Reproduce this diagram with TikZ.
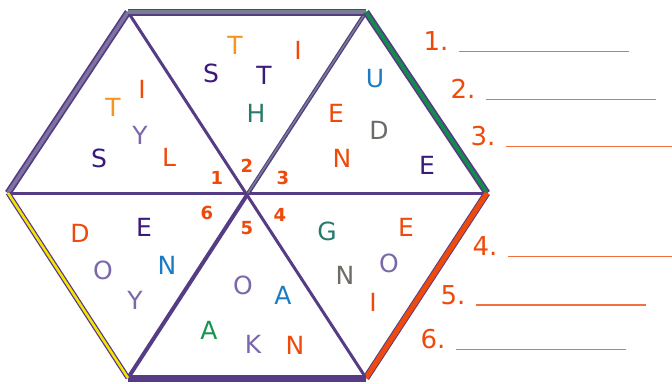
\documentclass[tikz,border=0pt]{standalone}
\usepackage{fontspec}
\setmainfont{DejaVu Sans}
\definecolor{hexpurple}{HTML}{553C85}
\definecolor{ltpurple}{HTML}{3B1A7A}
\definecolor{ltorange}{HTML}{F7941D}
\definecolor{ltred}{HTML}{EE4A0C}
\definecolor{ltlav}{HTML}{7B68AB}
\definecolor{ltteal}{HTML}{2A7A6C}
\definecolor{ltblue}{HTML}{1B7CC4}
\definecolor{ltgray}{HTML}{6E6A66}
\definecolor{ltgreen}{HTML}{17944E}
\definecolor{rimgray}{HTML}{76808C}
\definecolor{rimlav}{HTML}{7D739E}
\definecolor{rimgreen}{HTML}{138C4A}
\definecolor{rimyellow}{HTML}{F5E400}
\definecolor{blankline}{HTML}{F2703F}

\begin{document}
\begin{tikzpicture}[x=1pt,y=-1pt,
  rim/.style   ={draw=hexpurple, line width=7pt},
  riminner/.style={draw=#1, line width=3.5pt},
  spoke/.style ={draw=hexpurple, line width=3pt},
  ltr/.style   ={text=#1, inner sep=0pt, font=\fontsize{25}{25}\selectfont},
  tnum/.style  ={text=ltred, inner sep=0pt, font=\fontsize{18}{18}\selectfont\bfseries},
  anum/.style  ={text=ltred, inner sep=0pt, font=\fontsize{26}{26}\selectfont},
  blank/.style ={draw=blankline, line width=1.6pt}]
  \useasboundingbox (0,0) rectangle (672,383);

  % hexagon corners and centre
  \coordinate (L)  at (8,193);
  \coordinate (TL) at (128,12);
  \coordinate (TR) at (366,12);
  \coordinate (R)  at (487,193);
  \coordinate (BR) at (366,378);
  \coordinate (BL) at (128,378);
  \coordinate (C)  at (248,193);

  % spokes
  \draw[spoke] (L) -- (R);
  \draw[spoke] (TL) -- (BR);
  \draw[spoke, line width=4pt] (TR) -- (BL);
  \draw[draw=rimgray, line width=1.5pt] (TR) -- (C);

  % coloured rim
  \draw[rim] (L) -- (TL);  \draw[riminner=rimlav]    (L) -- (TL);
  \draw[rim] (TL) -- (TR); \draw[riminner=rimgray]   (TL) -- (TR);
  \draw[rim] (TR) -- (R);  \draw[riminner=rimgreen]  (TR) -- (R);
  \draw[rim] (R) -- (BR);  \draw[riminner=ltred, line width=5pt] (R) -- (BR);
  \draw[rim] (BR) -- (BL);
  \draw[rim, line width=5pt] (BL) -- (L); \draw[riminner=rimyellow, line width=2.5pt] (BL) -- (L);

  % triangle 1
  \node[ltr=ltorange] (t1T) at (113,107) {T};
  \node[ltr=ltred]    (t1I) at (142,89)  {I};
  \node[ltr=ltlav]    (t1Y) at (140,135) {Y};
  \node[ltr=ltpurple] (t1S) at (99,158)  {S};
  \node[ltr=ltred]    (t1L) at (169,157) {L};
  \node[tnum] (n1) at (217,178) {1};

  % triangle 2
  \node[ltr=ltpurple] (t2S) at (211,73)  {S};
  \node[ltr=ltorange] (t2T) at (235,45)  {T};
  \node[ltr=ltred]    (t2I) at (298,50)  {I};
  \node[ltr=ltpurple] (t2t) at (264,75)  {T};
  \node[ltr=ltteal]   (t2H) at (256,113) {H};
  \node[tnum] (n2) at (247,166) {2};

  % triangle 3
  \node[ltr=ltblue]   (t3U) at (375,79)  {U};
  \node[ltr=ltred]    (t3E) at (336,113) {E};
  \node[ltr=ltgray]   (t3D) at (379,130) {D};
  \node[ltr=ltred]    (t3N) at (342,158) {N};
  \node[ltr=ltpurple] (t3e) at (427,165) {E};
  \node[tnum] (n3) at (283,178) {3};

  % triangle 4
  \node[ltr=ltteal]   (t4G) at (327,231) {G};
  \node[ltr=ltred]    (t4E) at (406,227) {E};
  \node[ltr=ltlav]    (t4O) at (389,263) {O};
  \node[ltr=ltgray]   (t4N) at (345,275) {N};
  \node[ltr=ltred]    (t4I) at (373,302) {I};
  \node[tnum] (n4) at (280,215) {4};

  % triangle 5
  \node[ltr=ltlav]    (t5O) at (243,285) {O};
  \node[ltr=ltblue]   (t5A) at (283,295) {A};
  \node[ltr=ltgreen]  (t5a) at (209,330) {A};
  \node[ltr=ltlav]    (t5K) at (253,344) {K};
  \node[ltr=ltred]    (t5N) at (295,345) {N};
  \node[tnum] (n5) at (247,228) {5};

  % triangle 6
  \node[ltr=ltred]    (t6D) at (80,233)  {D};
  \node[ltr=ltpurple] (t6E) at (144,227) {E};
  \node[ltr=ltblue]   (t6N) at (167,265) {N};
  \node[ltr=ltlav]    (t6O) at (103,270) {O};
  \node[ltr=ltlav]    (t6Y) at (135,300) {Y};
  \node[tnum] (n6) at (207,213) {6};

  % answer lines
  \foreach \i/\x/\y in {1/436/41, 2/463/89, 3/483/136,
                        4/485/246, 5/453/295, 6/433/339}{
    \node[anum] (a\i) at (\x,\y) {\i.};
    \coordinate (b\i) at ([xshift=180pt, yshift=-1pt]a\i.base east);
    \draw[blank] ([xshift=10pt, yshift=-1pt]a\i.base east) -- (b\i);
  }
\end{tikzpicture}
\end{document}
